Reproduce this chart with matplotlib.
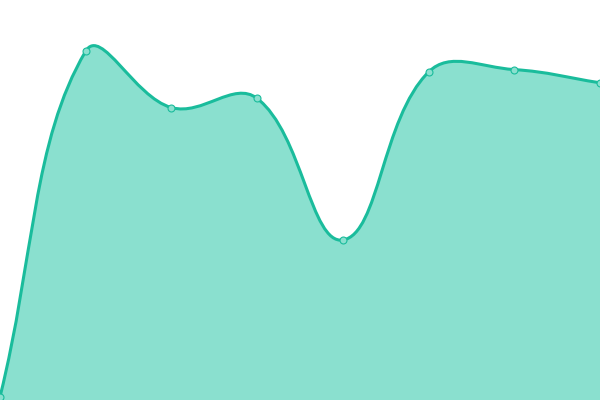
import numpy as np
import matplotlib
matplotlib.use("Agg")
import matplotlib.pyplot as plt
from matplotlib.path import Path
from matplotlib.patches import PathPatch

# data: one value per category, on a 0-100 scale
labels = ["A", "B", "C", "D", "E", "F", "G", "H"]
values = [0.8, 87.2, 73.1, 75.4, 40.0, 82.0, 82.6, 79.3]

line_color = "#1abc9c"
fill_color = "#8ae0cf"
tension = 0.4

fig = plt.figure(figsize=(6, 4), dpi=100)
ax = fig.add_axes([0, 0, 1, 1])
ax.set_xlim(0, len(labels) - 1)
ax.set_ylim(0, 100)
ax.axis("off")

x = np.arange(len(labels), dtype=float)
y = np.array(values, dtype=float)

# work in pixel space for the spline control points (like chart.js)
sx = 600 / (len(labels) - 1)
sy = 400 / 100
px, py = x * sx, y * sy
n = len(px)
cp_prev = np.zeros((n, 2))
cp_next = np.zeros((n, 2))
for i in range(n):
    p0 = (px[max(i - 1, 0)], py[max(i - 1, 0)])
    p1 = (px[i], py[i])
    p2 = (px[min(i + 1, n - 1)], py[min(i + 1, n - 1)])
    d01 = np.hypot(p1[0] - p0[0], p1[1] - p0[1])
    d12 = np.hypot(p2[0] - p1[0], p2[1] - p1[1])
    tot = d01 + d12
    s01 = d01 / tot if tot else 0
    s12 = d12 / tot if tot else 0
    fa, fb = tension * s01, tension * s12
    cp_prev[i] = (p1[0] - fa * (p2[0] - p0[0]), p1[1] - fa * (p2[1] - p0[1]))
    cp_next[i] = (p1[0] + fb * (p2[0] - p0[0]), p1[1] + fb * (p2[1] - p0[1]))
cp_prev[:, 1] = np.clip(cp_prev[:, 1], 0, 400)
cp_next[:, 1] = np.clip(cp_next[:, 1], 0, 400)
cp_prev /= [sx, sy]
cp_next /= [sx, sy]

verts = [(x[0], y[0])]
codes = [Path.MOVETO]
for i in range(1, n):
    verts += [tuple(cp_next[i - 1]), tuple(cp_prev[i]), (x[i], y[i])]
    codes += [Path.CURVE4] * 3

fill_verts = verts + [(x[-1], 0), (x[0], 0), (x[0], y[0])]
fill_codes = codes + [Path.LINETO, Path.LINETO, Path.CLOSEPOLY]
ax.add_patch(PathPatch(Path(fill_verts, fill_codes), facecolor=fill_color,
                       edgecolor="none", zorder=1))
ax.add_patch(PathPatch(Path(verts, codes), facecolor="none",
                       edgecolor=line_color, linewidth=2.2, zorder=2))
ax.plot(x, y, linestyle="none", marker="o", markersize=5,
        markerfacecolor=fill_color, markeredgecolor=line_color,
        markeredgewidth=0.8, zorder=3, clip_on=False)

fig.savefig("out.png", dpi=100)
